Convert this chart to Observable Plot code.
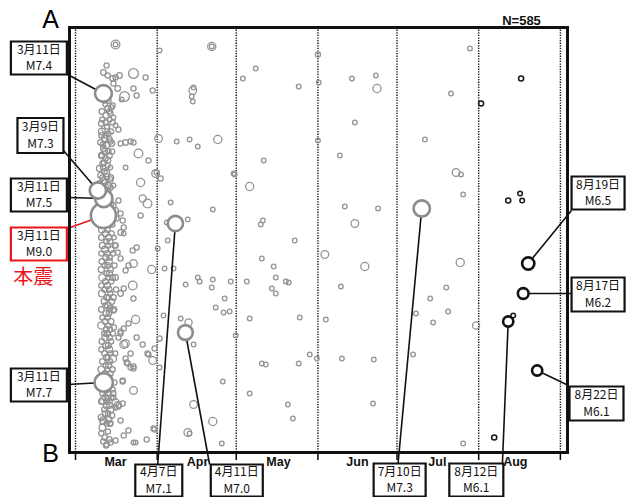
<!DOCTYPE html>
<html><head><meta charset="utf-8">
<script src="https://cdn.jsdelivr.net/npm/d3@7"></script>
<script src="https://cdn.jsdelivr.net/npm/@observablehq/plot@0.6"></script>
<style>
body{margin:0;background:#fff;}
#chart{position:absolute;left:0;top:0;}
</style></head><body><div id="chart"></div>
<script>
// ---- data: [days after 2011-03-01 00:00 UTC, position along A–B (0 = A), magnitude]
const marchQuakes = [
[15.2,17,5.8],[15.2,17,5.0],[11.8,38,5.1],[10.6,45,5.2],[12.2,48,5.1],[14.1,51,5.2],[15.2,50,5.1],[16.7,48,5.2],
[14.4,56,5.1],[16.0,61,5.2],[22.0,46,6.0],[26.6,50,5.1],[22.0,61,5.1],[23.2,68,5.1],[29.3,63,5.1],[18.6,69,6.0],
[17.5,72,5.0],[14.1,78,5.1],[12.2,81,5.2],[13.3,86,5.1],[14.4,90,5.0],[11.4,95,5.1],[14.1,95,5.1],[15.2,98,5.0],
[16.3,102,5.1],[11.4,101,5.6],[9.9,108,5.2],[11.0,111,5.3],[12.5,106,5.1],[9.5,115,5.2],[11.8,118,5.3],[13.3,114,5.1],
[17.1,116,5.1],[19.0,115,5.2],[20.9,114,5.1],[22.0,115,5.1],[10.6,121,5.2],[12.5,124,5.1],[23.9,126,5.8],[9.9,128,5.3],
[11.4,131,5.2],[27.7,133,5.1],[10.3,136,5.2],[12.2,138,5.1],[19.0,140,5.0],[9.1,141,5.3],[11.0,144,5.2],[30.8,145,5.1],
[9.5,148,5.2],[11.8,149,5.2],[10.6,153,5.3],[13.3,152,5.1],[24.7,155,5.7],[30.4,146,5.6],[9.1,156,5.2],[8.0,168,5.3],
[8.7,173,5.1],[12.5,163,5.1],[13.3,160,5.1],[16.3,173,5.1],[25.5,171,5.5],[27.3,176,5.8],[24.7,188,5.1],[14.4,178,5.1],
[17.1,186,5.1],[15.2,183,5.2],[15.6,191,5.1],[17.9,193,5.1],[18.3,200,5.1],[17.1,205,5.2],[18.3,206,5.0],[21.7,223,5.1],
[23.2,220,5.1],[22.0,236,5.6],[20.1,238,5.1],[19.0,243,5.1],[28.9,242,5.7],[21.7,258,5.8],[18.3,261,5.1],[17.1,266,5.2],
[14.4,270,5.2],[22.0,271,5.1],[22.8,292,5.7],[20.1,296,5.1],[17.1,304,5.1],[19.0,316,5.6],[19.4,335,5.1],[22.0,339,5.1],
[29.3,333,5.6],[27.3,326,5.1],[30.0,321,5.1],[17.9,353,5.1],[22.0,363,5.6],[16.0,378,5.6],[10.6,393,5.6],[17.1,393,5.1],
[20.1,403,5.1],[18.3,408,5.1],[11.8,417,5.1],[13.3,415,5.1],[15.2,413,5.1],[22.0,415,5.0],[22.8,415,5.0],[27.0,412,5.1],
[29.6,401,5.1],[12.2,371,5.2],[15.2,375,5.5],[18.3,301,5.1],[17.1,306,5.1],[16.3,310,5.1],[23.2,310,5.1],[25.5,317,5.1],
[18.3,317,5.6],[20.9,326,5.1],[19.0,331,5.1],[19.8,336,5.1],[20.9,340,5.1],[22.0,341,5.1],[27.7,327,5.1],[14.1,331,5.6],
[17.9,354,5.1],[14.1,362,5.1],[14.4,370,5.1],[17.9,376,5.1],[16.3,378,5.1],[15.2,380,5.1],[10.6,373,5.6],[13.3,396,5.1],
[30.0,402,5.1],[17.1,231,5.1],[16.0,225,5.1],[15.2,218,5.1],[13.3,280,5.1],[14.4,283,5.1]
];
const marchColumn = [
[10.9,73,5.1],[12.4,73,5.2],[11.3,77,5.0],[10.0,84,5.2],[12.8,84,5.1],[11.6,88,5.3],[10.2,92,5.1],[13.0,92,5.0],
[12.0,99,5.1],[10.0,104,5.4],[13.5,104,5.1],[12.9,112,5.2],[10.4,117,5.1],[11.0,124,5.3],[13.9,124,5.1],[12.3,133,5.2],
[10.5,140,5.2],[13.2,140,5.0],[11.9,146,5.3],[10.2,150,5.1],[12.5,158,5.2],[14.4,158,5.0],[11.5,165,5.1],[11.8,176,5.2],
[13.6,176,5.1],[10.9,181,5.2],[12.8,197,5.3],[14.0,197,5.1],[10.0,202,5.4],[12.1,202,5.2],[11.3,206,5.3],[13.7,206,5.1],
[9.8,210,5.2],[12.6,210,5.3],[14.6,210,5.0],[11.7,214,5.1],[13.1,214,5.2],[10.2,218,5.3],[12.3,218,5.1],[15.0,218,5.1],
[11.2,222,5.4],[13.5,222,5.2],[9.8,226,5.1],[12.0,226,5.2],[14.3,226,5.1],[11.5,230,5.3],[13.0,230,5.1],[10.0,234,5.2],
[12.7,234,5.4],[11.0,238,5.1],[12.2,238,5.2],[14.8,238,5.1],[9.8,242,5.3],[13.3,242,5.2],[11.8,246,5.1],[12.9,246,5.3],
[10.2,250,5.5],[12.4,250,5.1],[14.1,250,5.2],[11.4,254,5.2],[13.6,254,5.1],[9.8,258,5.1],[12.1,258,5.3],[11.1,262,5.2],
[12.8,262,5.2],[15.4,262,5.1],[10.0,266,5.4],[13.2,266,5.1],[11.9,270,5.2],[12.6,270,5.1],[10.9,274,5.3],[13.8,274,5.2],
[11.3,278,5.1],[12.3,278,5.4],[9.8,282,5.2],[13.0,282,5.1],[14.6,282,5.2],[11.6,286,5.3],[12.7,286,5.1],[10.2,290,5.1],
[12.2,290,5.2],[11.2,294,5.2],[13.4,294,5.3],[9.8,298,5.5],[12.5,298,5.1],[11.7,302,5.2],[13.1,302,5.1],[10.9,306,5.1],
[12.0,306,5.3],[14.2,306,5.1],[11.3,310,5.4],[12.9,310,5.2],[10.0,314,5.2],[13.5,314,5.1],[11.5,318,5.3],[12.4,318,5.2],
[9.8,322,5.1],[12.8,322,5.4],[11.0,326,5.2],[13.2,326,5.1],[15.1,326,5.1],[11.8,330,5.3],[12.3,330,5.1],[10.2,334,5.2],
[13.0,334,5.2],[11.4,338,5.1],[12.6,338,5.3],[9.8,342,5.4],[12.1,342,5.1],[14.0,342,5.2],[11.2,346,5.2],[13.3,346,5.1],
[10.9,350,5.3],[12.7,350,5.2],[11.6,354,5.1],[12.2,354,5.4],[10.0,358,5.2],[13.1,358,5.1],[11.9,362,5.3],[10.2,366,5.1],
[12.5,366,5.2],[14.3,366,5.2],[11.3,370,5.4],[13.6,370,5.1],[9.8,374,5.2],[12.0,374,5.1],[11.7,378,5.3],[12.9,378,5.2],
[10.9,382,5.1],[13.4,382,5.3],[11.2,386,5.2],[12.4,386,5.1],[9.8,390,5.3],[11.8,396,5.1],[13.0,396,5.2],[10.2,400,5.4],
[12.3,404,5.1],[11.1,410,5.2],[10.5,414,5.1],
[11.0,70,5.2],[13.6,80,5.1],[9.8,96,5.2],[11.5,108,5.1],[13.8,116,5.2],[10.0,128,5.1],[12.9,128,5.2],[10.8,135,5.1],
[11.2,155,5.2],[13.5,150,5.1],[10.4,162,5.3],[12.8,168,5.2],[10.3,172,5.1],[13.2,186,5.2],[12.0,190,5.1],[10.4,394,5.2],
[12.6,392,5.3],[9.8,406,5.1],[12.8,412,5.2],[11.6,418,5.1],[13.8,388,5.2],[14.6,300,5.1],[15.2,250,5.2],[14.8,355,5.1]
];
const aprilQuakes = [
[32.3,151,5.1],[31.9,311,5.1],[31.9,23,5.0],[51.7,19,5.7],[51.7,19,5.0],[44.5,63,5.6],[44.8,60,5.0],[44.1,69,5.0],
[44.5,74,5.0],[31.5,111,5.6],[38.4,114,5.0],[43.3,112,5.0],[46.4,119,5.0],[54.0,112,5.7],[60.0,146,5.0],[36.1,175,5.0],
[52.1,182,5.0],[42.6,192,5.0],[34.6,195,5.0],[35.0,213,5.0],[31.2,221,5.0],[33.8,241,5.0],[37.2,241,5.0],[41.8,257,5.0],
[46.4,250,5.0],[47.1,254,5.0],[52.1,252,5.0],[51.7,260,5.0],[58.9,254,5.0],[56.6,271,5.0],[53.2,280,5.0],[56.2,285,5.0],
[58.5,284,5.0],[33.4,288,5.0],[39.9,291,5.0],[42.9,295,5.5],[44.8,317,5.0],[60.8,308,5.0],[55.9,354,5.0],[44.8,377,5.6],
[52.1,394,5.7],[42.6,405,5.6],[43.3,406,5.0],[55.5,416,5.0],[31.9,340,5.0]
];
const mayQuakes = [
[63.5,51,5.0],[68.4,41,5.0],[84.7,59,5.0],[71.4,133,5.0],[60.4,147,5.0],[66.1,159,5.7],[71.1,193,5.0],[70.3,197,5.0],
[83.2,213,5.0],[70.7,231,5.0],[75.2,239,5.0],[76.0,250,5.0],[65.0,254,5.0],[79.8,254,5.0],[80.9,255,5.0],[74.5,261,5.0],
[76.0,266,5.0],[66.1,291,5.0],[85.1,290,5.0],[88.9,327,5.0],[91.6,331,5.0],[70.7,336,5.0],[72.2,337,5.0],[84.7,336,5.0],
[66.1,366,5.0],[80.6,377,5.0],[82.5,391,5.0],[92.0,27,5.1],[92.3,55,5.0],[92.0,113,5.0]
];
const juneQuakes = [
[104.9,51,5.0],[114.0,48,5.0],[114.4,61,5.7],[106.0,95,5.0],[100.3,128,5.0],[102.2,179,5.0],[114.8,181,5.0],[106.0,196,5.6],
[94.6,227,5.6],[109.8,239,5.7],[100.7,259,5.0],[95.0,292,5.0],[101.1,331,5.0],[113.2,332,5.0],[112.9,376,5.0]
];
const julyQuakes = [
[149.7,21,5.0],[142.5,66,5.0],[132.6,112,5.0],[144.4,145,5.6],[146.3,147,5.0],[147.1,167,5.0],[146.0,235,5.7],[140.7,260,5.0],
[134.6,271,5.0],[141.4,284,5.0],[129.2,286,5.0],[135.7,295,5.0],[152.0,298,5.5],[128.1,327,5.0],[147.1,416,5.0]
];
const augustQuakes = [
[169.1,51,5.1],[153.9,76,5.1],[164.2,173,5.1],[168.7,166,5.0],[169.5,173,5.0],[166.1,288,5.0],[158.9,410,5.1]
];

// labelled large events
const majorDateLabels = ["3月11日","3月9日","3月11日","3月11日","3月11日","4月7日","4月11日","7月10日","8月12日","8月17日","8月19日","8月22日"];
const majorMags = [7.4,7.3,7.5,9.0,7.7,7.1,7.0,7.3,6.1,6.2,6.5,6.1];
const majorDays = [10.6,8.5,10.7,10.6,10.7,37.9,41.7,131.4,164.2,169.9,171.8,175.2];
const majorPos  = [66,163,171,188,355,196,305,181,294,266,236,343];

const monthNames = ["Mar","Apr","May","Jun","Jul","Aug"];
const monthStartDays = [0,31,61,92,122,153,184];
const monthLabelDays = [15.2,46.3,77,107,137.3,166.9];
const totalCount = "N=585";
const mainShockLabel = "本震";

// ---- annotation layout (label boxes and leader lines)
const boxDays = [-13.9,-13.3,-13.9,-13.9,-13.9,31.6,61.2,123.0,152.1,198.3,198.3,197.7];
const boxPos  = [30.5,108,167.5,216.5,357.5,453,453,452.5,452.5,267,165.5,376];
const leaderDays = [-3.0,-4.6,-3.0,-3.0,-3.0,31.2,50.9,122.4,162.0,188.2,188.2,187.1];
const leaderPos  = [47,123,170,201,357,437,437,436,436,266,183,358];
const boxW = [56,46,56,56,56,47,52,52,54,53,53,54];
const boxH = [33,35,33,33,33,32,32,33,33,34,33,34];

const START = Date.UTC(2011, 2, 1);
const toDate = d => new Date(START + d * 864e5);
const AUG1 = 153;

const quakes = [...marchQuakes, ...marchColumn, ...aprilQuakes, ...mayQuakes, ...juneQuakes, ...julyQuakes, ...augustQuakes]
  .map(([d, p, m]) => ({day: d, date: toDate(d), pos: p, mag: m}));
const greyQuakes = quakes.filter(q => q.day < AUG1);
const blackQuakes = quakes.filter(q => q.day >= AUG1);

const majors = majorDateLabels.map((lab, i) => ({
  dateLabel: lab, magLabel: "M" + majorMags[i].toFixed(1),
  mag: majorMags[i], day: majorDays[i], date: toDate(majorDays[i]), pos: majorPos[i],
  boxDate: toDate(boxDays[i]), boxPos: boxPos[i],
  leadDate: toDate(leaderDays[i]), leadPos: leaderPos[i],
  w: boxW[i], h: boxH[i], main: majorMags[i] === 9.0
}));

const boxSymbol = (w, h) => ({draw(ctx) { ctx.rect(-w / 2, -h / 2, w, h); }});
const labelFont = "'Liberation Sans Narrow', 'Noto Sans CJK JP', sans-serif";

const chart = Plot.plot({
  width: 630, height: 497,
  marginLeft: 69, marginRight: 63, marginTop: 27, marginBottom: 45,
  x: {type: "utc", domain: [toDate(-2.28), toDate(186.7)], label: null},
  y: {domain: [0, 425], reverse: true, axis: null},
  r: {type: "linear", domain: [5, 9], range: [2.3, 12.5]},
  style: {background: "white", fontFamily: "'Liberation Sans', Arial, sans-serif"},
  marks: [
    Plot.ruleX(monthStartDays.map(toDate), {stroke: "#111", strokeWidth: 1.4, strokeDasharray: "1.3,1.3"}),
    Plot.axisX({ticks: monthStartDays.map(toDate), tickSize: 8, tickFormat: () => "", strokeWidth: 1.5, label: null}),
    Plot.text(monthNames, {x: (d, i) => toDate(monthLabelDays[i]), text: d => d, frameAnchor: "bottom", dy: 13,
      fontWeight: "bold", fontSize: 12.5, fill: "#111"}),
    Plot.dot(greyQuakes, {x: "date", y: "pos", r: "mag", stroke: "#939393", strokeWidth: 1.3, fill: "none"}),
    Plot.dot(blackQuakes, {x: "date", y: "pos", r: "mag", stroke: "#1a1a1a", strokeWidth: 1.5, fill: "none"}),
    Plot.link(majors.filter(d => !d.main), {x1: "leadDate", y1: "leadPos", x2: "date", y2: "pos", stroke: "#111", strokeWidth: 1.6}),
    Plot.link(majors.filter(d => d.main), {x1: "leadDate", y1: "leadPos", x2: "date", y2: "pos", stroke: "#e8141c", strokeWidth: 1.6}),
    Plot.dot(majors.filter(d => d.day < AUG1), {x: "date", y: "pos", r: "mag", stroke: "#8c8c8c", strokeWidth: 2.6, fill: "white"}),
    Plot.dot(majors.filter(d => d.day >= AUG1), {x: "date", y: "pos", r: "mag", stroke: "#111", strokeWidth: 2.6, fill: "white"}),
    Plot.frame({stroke: "#111", strokeWidth: 3}),
    ...majors.map(d => Plot.dot([d], {x: "boxDate", y: "boxPos", symbol: boxSymbol(d.w, d.h), r: 1,
      fill: "white", stroke: d.main ? "#e8141c" : "#111", strokeWidth: 2.2})),
    Plot.text(majors, {x: "boxDate", y: "boxPos", text: "dateLabel", dy: -8, fontSize: 12, fill: "#111", fontFamily: labelFont}),
    Plot.text(majors, {x: "boxDate", y: "boxPos", text: "magLabel", dy: 8.2, fontSize: 12, fill: "#111", fontFamily: labelFont,
      letterSpacing: 1}),
    Plot.text([mainShockLabel], {x: toDate(-16.0), y: 250, text: d => d, fontSize: 20, fill: "#e8141c",
      fontFamily: "'Noto Sans CJK JP', sans-serif"}),
    Plot.text(["A"], {frameAnchor: "top-left", dx: -19, dy: -8, text: d => d, fontSize: 25, textAnchor: "middle", lineAnchor: "middle"}),
    Plot.text(["B"], {frameAnchor: "bottom-left", dx: -19, dy: 1, text: d => d, fontSize: 25, textAnchor: "middle", lineAnchor: "middle"}),
    Plot.text([totalCount], {frameAnchor: "top-right", dx: -46, dy: -7, text: d => d, fontSize: 13, fontWeight: "bold",
      textAnchor: "middle", lineAnchor: "middle", fill: "#111"})
  ]
});
document.getElementById("chart").appendChild(chart);
</script></body></html>
